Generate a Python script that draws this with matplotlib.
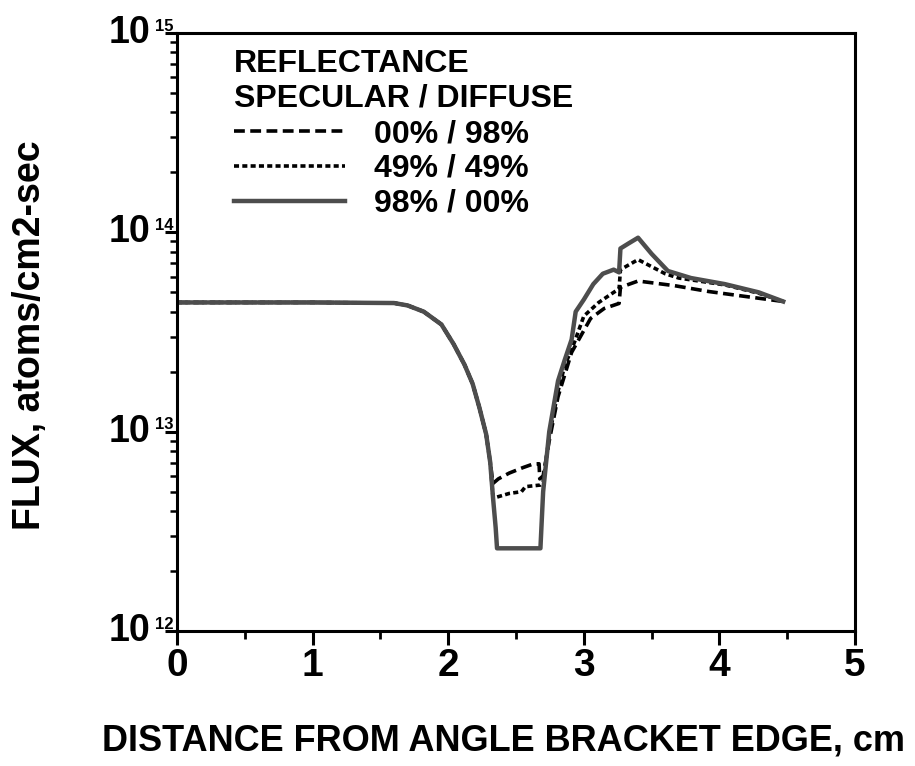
import matplotlib
matplotlib.use("Agg")
import matplotlib.pyplot as plt
import matplotlib.ticker as mticker

plt.rcParams['font.family'] = ['Liberation Sans', 'DejaVu Sans']
plt.rcParams['font.weight'] = 'bold'

# 98% specular / 00% diffuse
x_spec = [0.0, 1.0, 1.6, 1.7, 1.82, 1.95, 2.04, 2.12, 2.18, 2.23, 2.28, 2.31, 2.33, 2.35,
          2.36, 2.68, 2.70, 2.745, 2.81, 2.86, 2.91, 2.94, 3.00, 3.07, 3.14, 3.22, 3.26,
          3.27, 3.33, 3.40, 3.50, 3.62, 3.79, 4.04, 4.29, 4.47]
y_spec = [4.45e13, 4.45e13, 4.42e13, 4.3e13, 4.0e13, 3.45e13, 2.75e13, 2.17e13, 1.74e13,
          1.32e13, 9.7e12, 7.0e12, 4.7e12, 3.3e12, 2.6e12, 2.6e12, 5.0e12, 1.0e13, 1.8e13,
          2.3e13, 2.9e13, 4.0e13, 4.6e13, 5.5e13, 6.2e13, 6.5e13, 6.3e13, 8.3e13, 8.8e13,
          9.4e13, 7.8e13, 6.4e13, 5.9e13, 5.5e13, 5.0e13, 4.5e13]

# 49% / 49%
x_mid = [0.0, 1.0, 1.6, 1.7, 1.82, 1.95, 2.04, 2.12, 2.18, 2.23, 2.28, 2.31, 2.33, 2.36,
         2.45, 2.54, 2.57, 2.68, 2.70, 2.745, 2.81, 2.86, 2.93, 3.00, 3.11, 3.22, 3.26,
         3.27, 3.40, 3.60, 3.70, 4.04, 4.29, 4.47]
y_mid = [4.45e13, 4.45e13, 4.42e13, 4.3e13, 4.0e13, 3.45e13, 2.75e13, 2.17e13, 1.74e13,
         1.32e13, 9.7e12, 7.0e12, 4.7e12, 4.7e12, 4.9e12, 5.0e12, 5.3e12, 5.4e12, 5.6e12,
         9.5e12, 1.6e13, 2.15e13, 2.8e13, 3.8e13, 4.45e13, 5.0e13, 5.2e13, 6.5e13, 7.3e13,
         6.2e13, 5.9e13, 5.45e13, 4.95e13, 4.5e13]

# 00% / 98%
x_diff = [0.0, 1.0, 1.6, 1.7, 1.82, 1.95, 2.04, 2.12, 2.18, 2.23, 2.28, 2.31, 2.33, 2.37,
          2.45, 2.55, 2.63, 2.67, 2.675, 2.70, 2.745, 2.81, 2.91, 3.05, 3.15, 3.26, 3.27,
          3.40, 3.67, 3.92, 4.16, 4.47]
y_diff = [4.45e13, 4.45e13, 4.42e13, 4.3e13, 4.0e13, 3.45e13, 2.75e13, 2.17e13, 1.74e13,
          1.32e13, 9.7e12, 7.0e12, 5.5e12, 5.8e12, 6.2e12, 6.6e12, 6.9e12, 6.9e12, 5.8e12,
          6.0e12, 9.0e12, 1.5e13, 2.5e13, 3.7e13, 4.15e13, 4.4e13, 5.3e13, 5.7e13, 5.4e13,
          5.05e13, 4.8e13, 4.5e13]

labels = ["00% / 98%", "49% / 49%", "98% / 00%"]

fig = plt.figure(figsize=(9.15, 7.66), dpi=100)
ax = fig.add_axes([0.1934, 0.1762, 0.7411, 0.7807])

ax.plot(x_diff, y_diff, color='black', lw=2.6, ls=(0, (3.0, 1.5)), label=labels[0])
ax.plot(x_mid, y_mid, color='black', lw=2.6, ls=(0, (1.4, 0.9)), label=labels[1])
ax.plot(x_spec, y_spec, color='0.3', lw=3.2, ls='-', label=labels[2])

ax.set_yscale('log')
ax.set_xlim(0, 5)
ax.set_ylim(1e12, 1e15)

for s in ax.spines.values():
    s.set_linewidth(2.2)

ax.xaxis.set_major_locator(mticker.MultipleLocator(1))
ax.xaxis.set_minor_locator(mticker.MultipleLocator(0.5))
ax.tick_params(axis='x', which='major', direction='out', length=10, width=2.2, pad=2,
               labelsize=28)
ax.tick_params(axis='x', which='minor', direction='out', length=6, width=2)
ax.tick_params(axis='y', which='major', direction='out', length=9, width=2.2)
ax.tick_params(axis='y', which='minor', direction='out', length=5, width=1.8)
ax.yaxis.set_major_locator(mticker.LogLocator(base=10, numticks=10))
ax.yaxis.set_minor_locator(mticker.LogLocator(base=10, subs=range(2, 10), numticks=10))
ax.yaxis.set_minor_formatter(mticker.NullFormatter())
ax.yaxis.set_major_formatter(mticker.NullFormatter())

for k in [12, 13, 14, 15]:
    ax.annotate('10', xy=(0, 10.0 ** k), xycoords=('axes fraction', 'data'),
                xytext=(-19, 0), textcoords='offset points',
                ha='right', va='center', fontsize=27, fontweight='bold')
    ax.annotate(str(k), xy=(0, 10.0 ** k), xycoords=('axes fraction', 'data'),
                xytext=(-16, 5), textcoords='offset points',
                ha='left', va='center', fontsize=12, fontweight='bold')

ax.set_xlabel('DISTANCE FROM ANGLE BRACKET EDGE, cm', fontsize=26, fontweight='bold')
ax.xaxis.set_label_coords(0.481, -0.155)
ax.set_ylabel('FLUX, atoms/cm2-sec', fontsize=27, fontweight='bold')
ax.yaxis.set_label_coords(-0.19, 0.495)

leg = ax.legend(title='REFLECTANCE\nSPECULAR / DIFFUSE', loc='upper left',
                bbox_to_anchor=(0.06, 1.0),
                frameon=False, alignment='left', handlelength=3.5, handletextpad=0.9,
                labelspacing=0.15, borderaxespad=0.2, borderpad=0.3,
                prop={'size': 23, 'weight': 'bold'},
                title_fontproperties={'size': 23, 'weight': 'bold'})
leg._legend_box.sep = 4

fig.savefig('out.png', dpi=100)
